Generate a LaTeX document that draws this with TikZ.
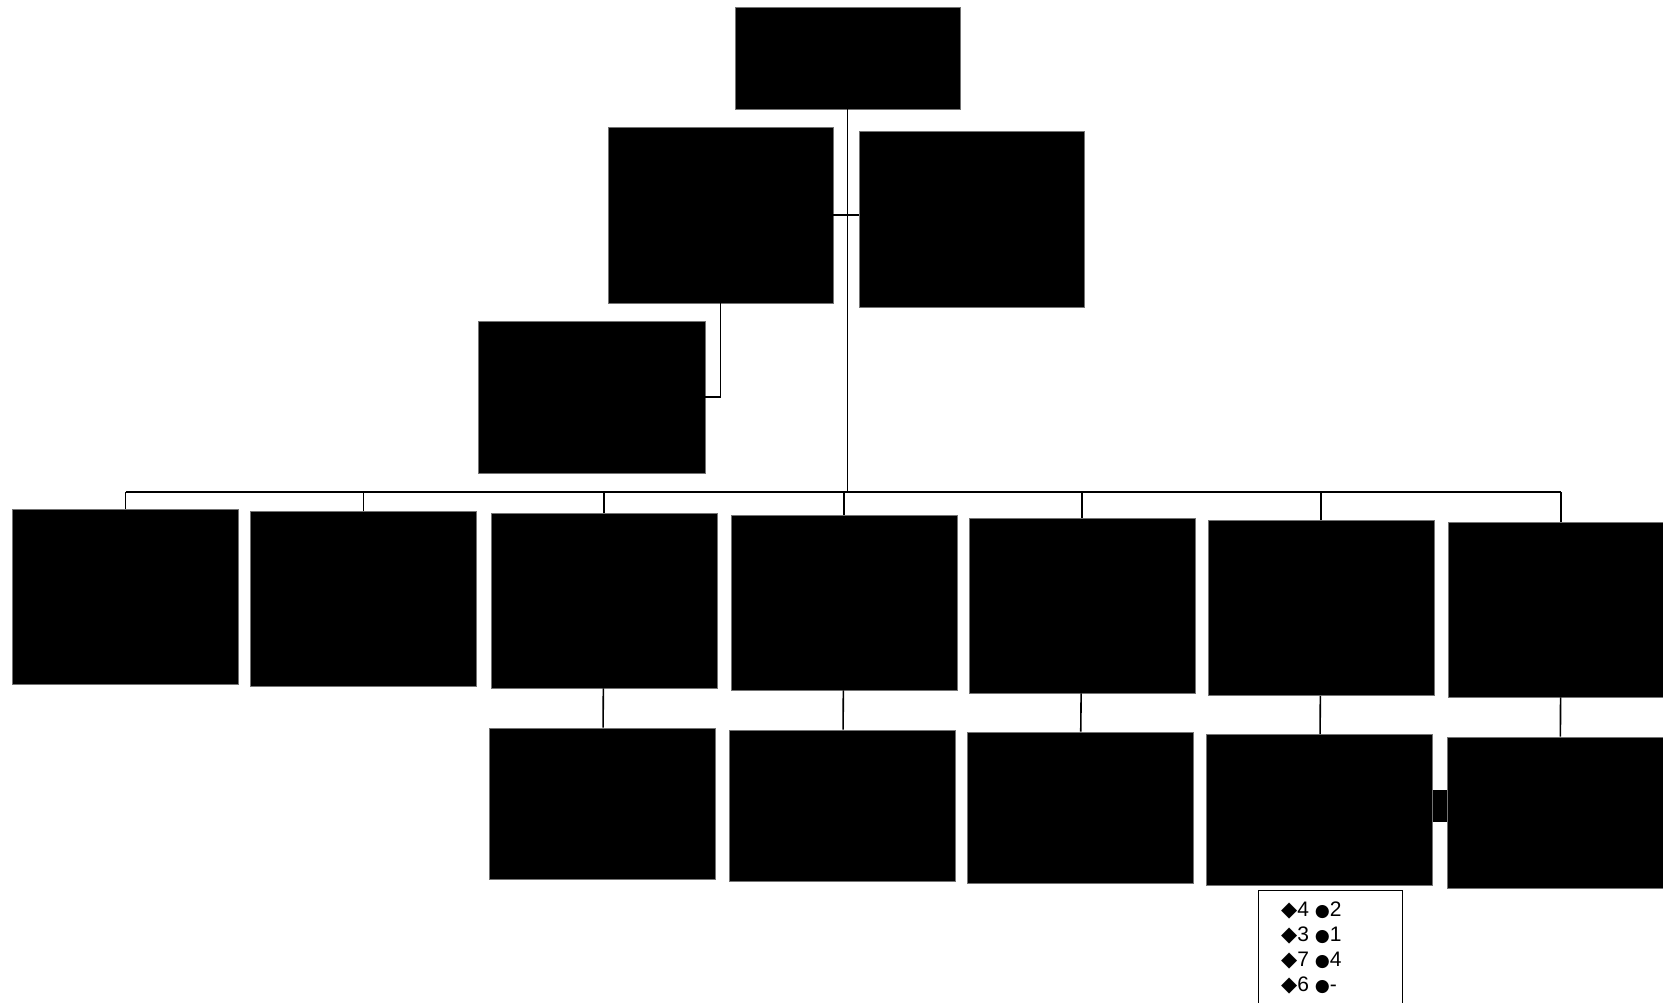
\documentclass[tikz,border=0pt]{standalone}
\usepackage{fontspec}
\setmainfont{Liberation Sans}
\newfontfamily\symfont[Scale=0.82]{DejaVu Sans}
\newfontfamily\gemfont{DejaVu Sans}
\usepackage{tikz}
\usetikzlibrary{arrows}

\begin{document}
\begin{tikzpicture}[x=1pt,y=-1pt,
  unit/.style={rectangle,fill=black,draw=black!55,line width=0.8pt,inner sep=0pt,minimum width=226pt,minimum height=175pt},
  sub/.style={unit,minimum height=151pt},
  link/.style={draw=black,line width=1.6pt},
  keyline/.style={anchor=base west,inner sep=0pt,font=\fontsize{21}{25}\selectfont}]
\useasboundingbox (0,0) rectangle (1663,1003);
\clip (0,0) rectangle (1663,1003);
\node[unit,minimum width=225pt,minimum height=102pt] (head) at (847.5,58) {};
\node[unit,minimum width=225pt,minimum height=176pt] (depa) at (720.5,215) {};
\node[unit,minimum width=225pt,minimum height=176pt] (depb) at (971.5,219) {};
\node[unit,minimum width=227pt,minimum height=152pt] (office) at (591.5,397) {};
\foreach \i/\x/\y in {1/125.5/596.5,2/363.5/598.5,3/604/600.5,4/844/602.5,5/1082/605.5,6/1321/608,7/1561/609.5}
  \node[unit] (u\i) at (\x,\y) {};
\foreach \i/\x/\y in {3/602.5/803.5,4/842.5/805.5,5/1080/807.5,6/1319.5/810,7/1560/812.5}
  \node[sub] (s\i) at (\x,\y) {};
\coordinate (bus) at (847,492);
\draw[link] (u1.north |- bus) -- (u7.north |- bus);
\draw[link] (depa.east) -- (depa.east -| depb.west);
\draw[link] (depa.south) |- (office.east);
\path[link]
  (head) edge (head |- bus)
  (u1) edge (u1 |- bus)
  (u2) edge (u2 |- bus)
  (u3) edge (u3 |- bus)
  (u4) edge (u4 |- bus)
  (u5) edge (u5 |- bus)
  (u6) edge (u6 |- bus)
  (u7) edge (u7 |- bus)
  (u3) edge (s3)
  (u4) edge (s4)
  (u5) edge (s5)
  (u6) edge (s6)
  (u7) edge (s7);
\draw[line width=32pt] ([yshift=4pt]s6.east) -- ([yshift=4pt]s6.east -| s7.west);
\node[draw=black,line width=1pt,minimum width=144pt,minimum height=130pt,anchor=north west] (key) at (1258,890) {};
\foreach \i/\y/\a/\b in {1/916/4/2,2/941/3/1,3/966/7/4,4/991/6/-}
  \node[keyline] (k\i) at (1281,\y) {{\gemfont ◆}\a\ {\symfont ●}\b};
\end{tikzpicture}
\end{document}
